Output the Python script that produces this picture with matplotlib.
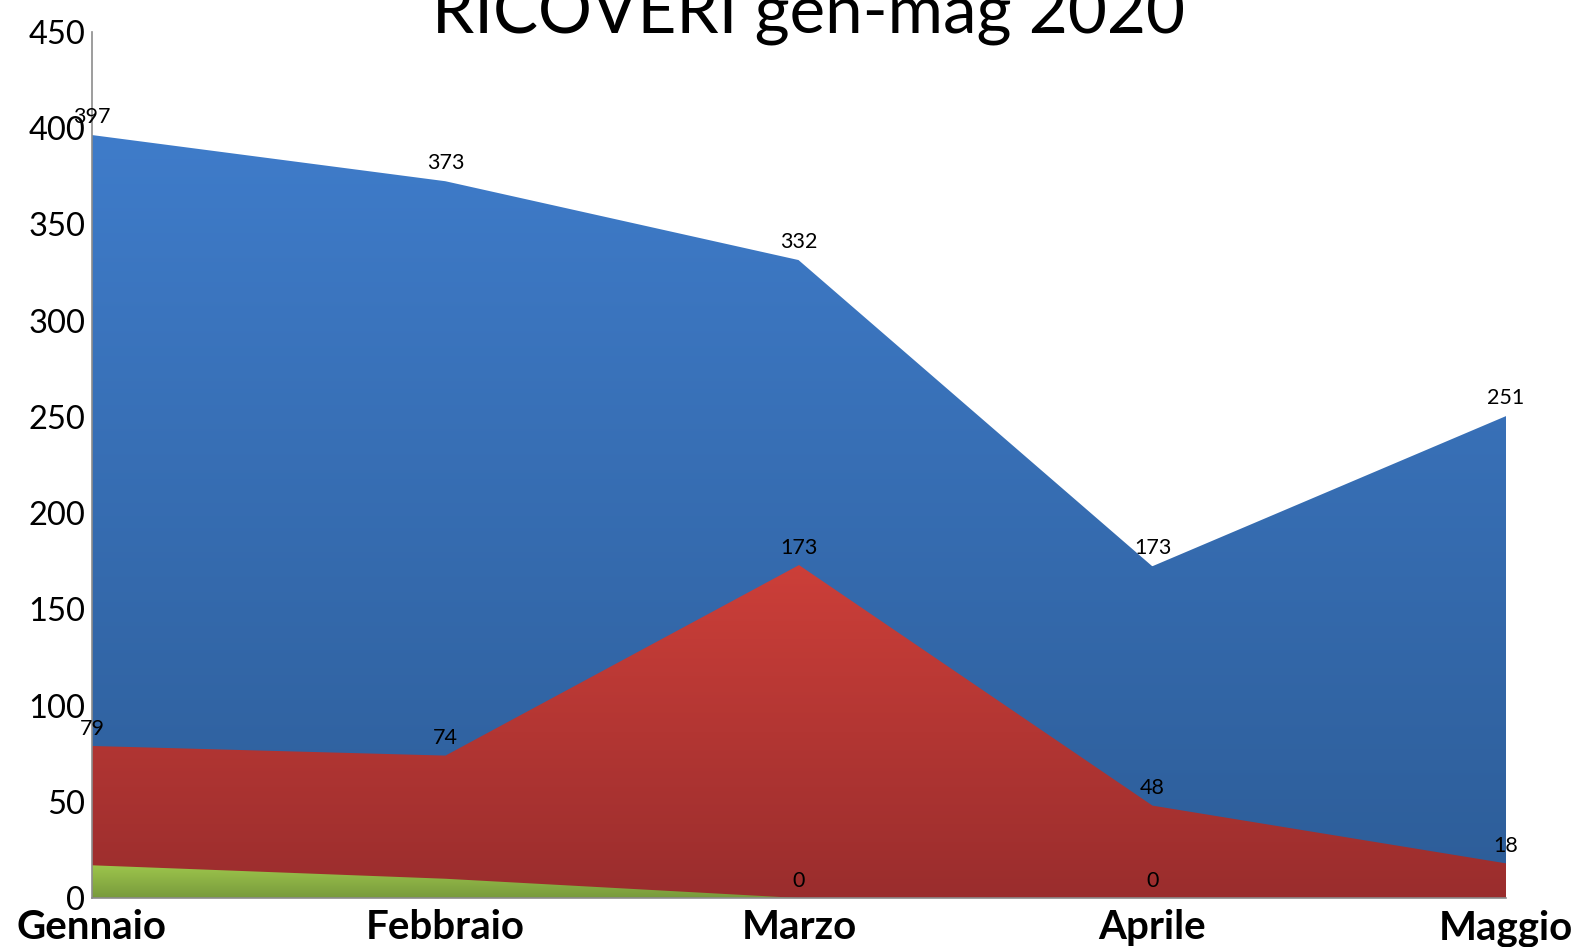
import matplotlib
matplotlib.use("Agg")
import matplotlib.pyplot as plt
import numpy as np
from matplotlib.colors import LinearSegmentedColormap

months = ["Gennaio", "Febbraio", "Marzo", "Aprile", "Maggio"]
blue_vals = [397, 373, 332, 173, 251]
red_vals = [79, 74, 173, 48, 18]
green_vals = [17, 10, 0, 0, 0]
green_labels_shown = [False, False, True, True, False]
title = "RICOVERI gen-mag 2020"
yticks = [0, 50, 100, 150, 200, 250, 300, 350, 400, 450]

plt.rcParams['font.family'] = ['Lato', 'DejaVu Sans']

fig = plt.figure(figsize=(15.79, 9.47), dpi=100)
ax = fig.add_axes([92/1579, 49/947, (1506-92)/1579, (898-32)/947])
x = np.arange(len(months))

def grad_fill(ax, x, y, top_col, bot_col, z, edge=None):
    poly = ax.fill_between(x, 0, y, color='none', lw=0, zorder=z)
    path = poly.get_paths()[0]
    cmap = LinearSegmentedColormap.from_list('g', [bot_col, top_col])
    ymax = max(y)
    grad = np.linspace(0, 1, 256).reshape(-1, 1)
    im = ax.imshow(grad, cmap=cmap, aspect='auto', origin='lower',
                   extent=[x[0], x[-1], 0, ymax], zorder=z)
    im.set_clip_path(path, transform=ax.transData)
    if edge:
        ax.plot(x, y, color=edge, lw=1.5, zorder=z + 0.1)

grad_fill(ax, x, blue_vals, '#3f7cca', '#2d5d98', 1, edge='white')
grad_fill(ax, x, red_vals, '#cc3f39', '#9a2d2d', 2)
grad_fill(ax, x, green_vals, '#9dc54c', '#789a3c', 3)

def label(xi, v):
    ax.annotate(str(v), (xi, v), xytext=(0, 12.5), textcoords='offset points',
                ha='center', va='center', fontsize=15.5, color='black', zorder=10)

for xi, v in zip(x, blue_vals):
    label(xi, v)
for xi, v in zip(x, red_vals):
    label(xi, v)
for xi, v, s in zip(x, green_vals, green_labels_shown):
    if s:
        label(xi, v)

ax.set_xlim(0, 4)
ax.set_ylim(0, 450)
ax.set_yticks(yticks)
ax.set_yticklabels([str(t) for t in yticks], fontsize=23.5)
ax.set_xticks(x)
ax.set_xticklabels(months, fontsize=29, fontweight='bold')
ax.tick_params(axis='x', length=0, pad=8)
ax.tick_params(axis='y', length=0, pad=5)
for s in ['top', 'right']:
    ax.spines[s].set_visible(False)
for s in ['left', 'bottom']:
    ax.spines[s].set_color('#8c8c8c')
    ax.spines[s].set_linewidth(1.2)
    ax.spines[s].set_zorder(5)
ax.set_facecolor('white')

fig.text(809/1579, 1 - 34/947, title, ha='center', va='baseline', fontsize=48.5)

fig.savefig('out.png', dpi=100)
